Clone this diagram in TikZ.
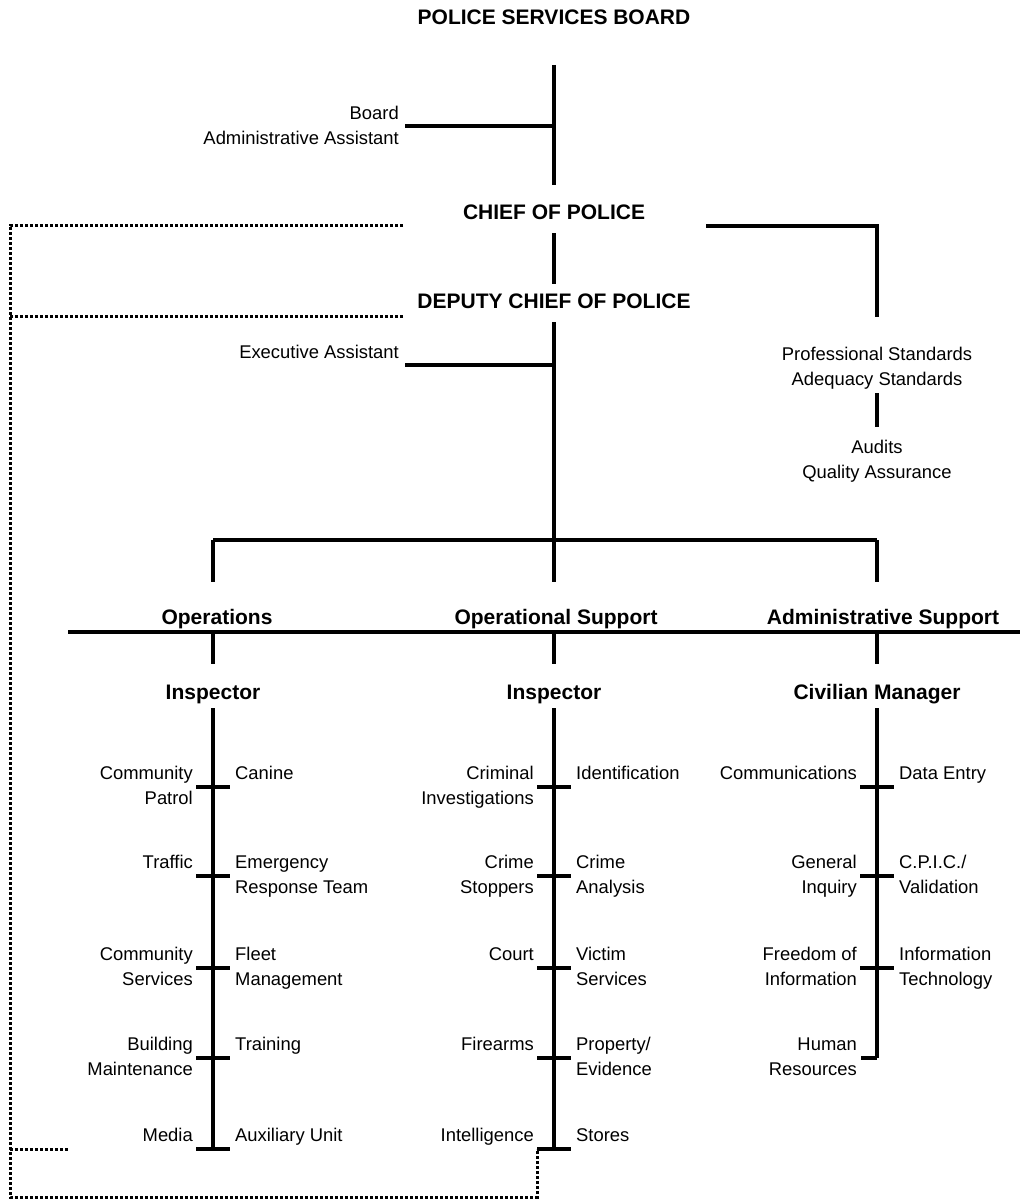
\documentclass[tikz,border=0pt]{standalone}
\usepackage{fontspec}
\setmainfont{Liberation Sans}
\newcommand\lstack[1]{\begin{tabular}[t]{@{}r@{}}#1\end{tabular}}
\newcommand\rstack[1]{\begin{tabular}[t]{@{}l@{}}#1\end{tabular}}
\newcommand\cstack[1]{\begin{tabular}[t]{@{}c@{}}#1\end{tabular}}
\begin{document}
\begin{tikzpicture}[x=1pt,y=-1pt,
  every node/.style={inner sep=0pt, font=\fontsize{18.4}{25}\selectfont},
  hd/.style={anchor=base, font=\fontsize{21}{25}\selectfont\bfseries},
  ln/.style={line width=3.2pt},
  dots/.style={line width=3pt, dash pattern=on 3.4pt off 1.6pt},
  lt/.style={anchor=base east},
  rt/.style={anchor=base west},
  ct/.style={anchor=base}]
\useasboundingbox (0,0) rectangle (1020,1199);

% ---- top part
\node[hd] (psb) at (554,25) {POLICE SERVICES BOARD};
\node[hd] (chief) at (554,219.5) {CHIEF OF POLICE};
\node[hd] (deputy) at (554,308.5) {DEPUTY CHIEF OF POLICE};
\node[lt] (board) at (399,119.6) {\lstack{Board\\Administrative Assistant}};
\node[lt] (exec) at (399,358.6) {Executive Assistant};
\node[ct] (prof) at (877,360.5) {\cstack{Professional Standards\\Adequacy Standards}};
\node[ct] (audit) at (877,453.5) {\cstack{Audits\\Quality Assurance}};

\coordinate (t0) at (554,65);
\coordinate (t1) at (554,185);
\coordinate (bj) at (554,126);
\coordinate (bl) at (405,126);
\coordinate (c0) at (554,233);
\coordinate (c1) at (554,284);
\coordinate (cr0) at (706,226);
\coordinate (cr1) at (877,226);
\coordinate (cr2) at (877,317);
\coordinate (p0) at (877,393);
\coordinate (p1) at (877,427);
\coordinate (d0) at (554,322);
\coordinate (ej) at (554,365);
\coordinate (el) at (405,365);
\coordinate (d1) at (554,540);

\draw[ln] (t0) -- (t1);
\draw[ln] (bl) -- (bj);
\draw[ln] (c0) -- (c1);
\draw[ln] (cr0) -- (cr1) -- (cr2);
\draw[ln] (p0) -- (p1);
\draw[ln] (d0) -- (d1);
\draw[ln] (el) -- (ej);

% ---- branches
\coordinate (bo) at (213,540);
\coordinate (ba) at (877,540);
\draw[ln] (bo) -- (ba);
\coordinate (bo1) at (213,582);
\coordinate (bs1) at (554,582);
\coordinate (ba1) at (877,582);
\draw[ln] (bo) -- (bo1);
\draw[ln] (d1) -- (bs1);
\draw[ln] (ba) -- (ba1);

\node[hd] (ops) at (217,624.5) {Operations};
\node[hd] (opsup) at (556,624.5) {Operational Support};
\node[hd] (adm) at (883,624.5) {Administrative Support};

\coordinate (hl0) at (68,632);
\coordinate (hl1) at (1020,632);
\draw[ln] (hl0) -- (hl1);

\coordinate (ho) at (213,632);
\coordinate (hs) at (554,632);
\coordinate (ha) at (877,632);
\coordinate (ho1) at (213,664);
\coordinate (hs1) at (554,664);
\coordinate (ha1) at (877,664);
\draw[ln] (ho) -- (ho1);
\draw[ln] (hs) -- (hs1);
\draw[ln] (ha) -- (ha1);

\node[hd] (insp1) at (213,699.5) {Inspector};
\node[hd] (insp2) at (554,699.5) {Inspector};
\node[hd] (civ) at (877,699.5) {Civilian Manager};

% ---- column coordinates
\foreach \c/\x in {o/213,s/554,a/877}{
  \coordinate (\c0) at (\x,708);
  \foreach \i/\y in {1/787,2/876,3/968,4/1058,5/1149}{
    \coordinate (\c\i) at (\x,\y);
  }
}
\draw[ln] (o0) -- (o5);
\draw[ln] (s0) -- (s5);
\draw[ln] (a0) -- (a4);
\foreach \c in {o,s}{
  \foreach \i in {1,...,5}{
    \draw[ln] ([xshift=-17pt]\c\i) -- ([xshift=17pt]\c\i);
  }
}
\foreach \i in {1,2,3}{
  \draw[ln] ([xshift=-17pt]a\i) -- ([xshift=17pt]a\i);
}
\draw[ln] ([xshift=-16pt]a4) -- (a4);

\tikzset{L/.style={lt, xshift=-20pt, yshift=7.4pt}, R/.style={rt, xshift=22pt, yshift=7.4pt}}

% Operations
\node[L] (oL1) at (o1) {\lstack{Community\\Patrol}};
\node[R] (oR1) at (o1) {\rstack{Canine}};
\node[L] (oL2) at (o2) {\lstack{Traffic}};
\node[R] (oR2) at (o2) {\rstack{Emergency\\Response Team}};
\node[L] (oL3) at (o3) {\lstack{Community\\Services}};
\node[R] (oR3) at (o3) {\rstack{Fleet\\Management}};
\node[L] (oL4) at (o4) {\lstack{Building\\Maintenance}};
\node[R] (oR4) at (o4) {\rstack{Training}};
\node[L] (oL5) at (o5) {\lstack{Media}};
\node[R] (oR5) at (o5) {\rstack{Auxiliary Unit}};

% Operational Support
\node[L] (sL1) at (s1) {\lstack{Criminal\\Investigations}};
\node[R] (sR1) at (s1) {\rstack{Identification}};
\node[L] (sL2) at (s2) {\lstack{Crime\\Stoppers}};
\node[R] (sR2) at (s2) {\rstack{Crime\\Analysis}};
\node[L] (sL3) at (s3) {\lstack{Court}};
\node[R] (sR3) at (s3) {\rstack{Victim\\Services}};
\node[L] (sL4) at (s4) {\lstack{Firearms}};
\node[R] (sR4) at (s4) {\rstack{Property/\\Evidence}};
\node[L] (sL5) at (s5) {\lstack{Intelligence}};
\node[R] (sR5) at (s5) {\rstack{Stores}};

% Administrative Support
\node[L] (aL1) at (a1) {\lstack{Communications}};
\node[R] (aR1) at (a1) {\rstack{Data Entry}};
\node[L] (aL2) at (a2) {\lstack{General\\Inquiry}};
\node[R] (aR2) at (a2) {\rstack{C.P.I.C./\\Validation}};
\node[L] (aL3) at (a3) {\lstack{Freedom of\\Information}};
\node[R] (aR3) at (a3) {\rstack{Information\\Technology}};
\node[L] (aL4) at (a4) {\lstack{Human\\Resources}};

% ---- dotted links
\coordinate (dc) at (403,225);
\coordinate (dd) at (403,316);
\coordinate (dl1) at (10,225);
\coordinate (dl2) at (10,316);
\coordinate (dl3) at (10,1149);
\coordinate (dm) at (68,1149);
\coordinate (dl4) at (10,1197);
\coordinate (db) at (537,1197);
\coordinate (ds) at (537,1149);
\draw[dots] (dc) -- (dl1) -- (dl4) -- (db) -- (ds);
\draw[dots] (dd) -- (dl2);
\draw[dots] (dl3) -- (dm);
\end{tikzpicture}
\end{document}
